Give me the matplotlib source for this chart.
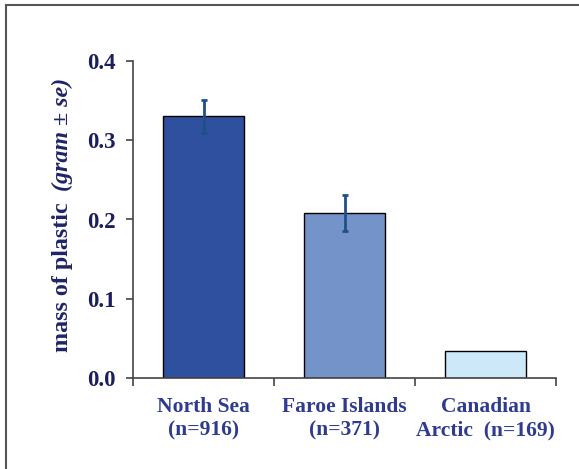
import matplotlib
matplotlib.use("Agg")
import matplotlib.pyplot as plt
from matplotlib.lines import Line2D

# data
regions = ["North Sea\n(n=916)", "Faroe Islands\n(n=371)", "Canadian\nArctic  (n=169)"]
mass = [0.330, 0.208, 0.034]
se = [0.021, 0.023, 0.0]
colors = ["#2f4f9f", "#7393c9", "#cde9f9"]

W, H = 579, 469
fig = plt.figure(figsize=(W / 100, H / 100), dpi=100)
ax = fig.add_axes([133 / W, 1 - 378 / H, (556 - 133) / W, (378 - 61) / H])

x = list(range(len(regions)))
ax.bar(x, mass, width=0.575, color=colors, edgecolor="black", linewidth=1.0, zorder=2)
for xi, m, s in zip(x, mass, se):
    if s > 0:
        ax.errorbar(xi, m, yerr=s, fmt="none", ecolor="#1f4f88", elinewidth=2,
                    capsize=2.3, capthick=2, zorder=3)

ax.set_xlim(-0.5, 2.5)
ax.set_ylim(0, 0.4)
ax.set_yticks([0.0, 0.1, 0.2, 0.3, 0.4])
ax.set_yticklabels(["0.0", "0.1", "0.2", "0.3", "0.4"])
ax.set_xticks(x)
ax.set_xticklabels(regions)
ax.set_xticks([-0.5, 0.5, 1.5, 2.5], minor=True)

for sp in ["top", "right"]:
    ax.spines[sp].set_visible(False)
for sp in ["left", "bottom"]:
    ax.spines[sp].set_color("#444444")
    ax.spines[sp].set_linewidth(1.2)

ax.tick_params(axis="y", direction="out", length=5, width=1.2, color="#444444", pad=7.7,
               labelsize=16.5, labelcolor="#1b1f5e")
ax.tick_params(axis="x", which="major", length=0, pad=14, labelsize=15.5, labelcolor="#2e3b8f")
ax.tick_params(axis="x", which="minor", direction="out", length=6, width=1.2, color="#444444")
for lab in ax.get_yticklabels():
    lab.set_fontfamily("Liberation Serif")
    lab.set_fontweight("bold")
for lab in ax.get_xticklabels():
    lab.set_fontfamily("Liberation Serif")
    lab.set_fontweight("bold")
    lab.set_linespacing(1.22)

# y label: plain bold part, then italic part placed just above it
t1 = fig.text(68 / W, 1 - 352 / H, "mass of plastic", rotation=90, rotation_mode="anchor",
              ha="left", va="baseline", fontsize=17.3, fontweight="bold",
              family="Liberation Serif", color="#1f2466")
fig.canvas.draw()
bb = t1.get_window_extent()
fig.text(68 / W, (bb.y1 + 11) / H, "(gram \u00b1 se)", rotation=90, rotation_mode="anchor",
         ha="left", va="baseline", fontsize=17.3, fontweight="bold", style="italic",
         family="Liberation Serif", color="#1f2466")

# outer frame (left and top only visible)
fig.add_artist(Line2D([6 / W, 6 / W], [0, 1 - 5 / H], transform=fig.transFigure,
                      color="#555555", linewidth=1.5))
fig.add_artist(Line2D([6 / W, 1], [1 - 5 / H, 1 - 5 / H], transform=fig.transFigure,
                      color="#555555", linewidth=1.5))

fig.savefig("out.png", dpi=100)
